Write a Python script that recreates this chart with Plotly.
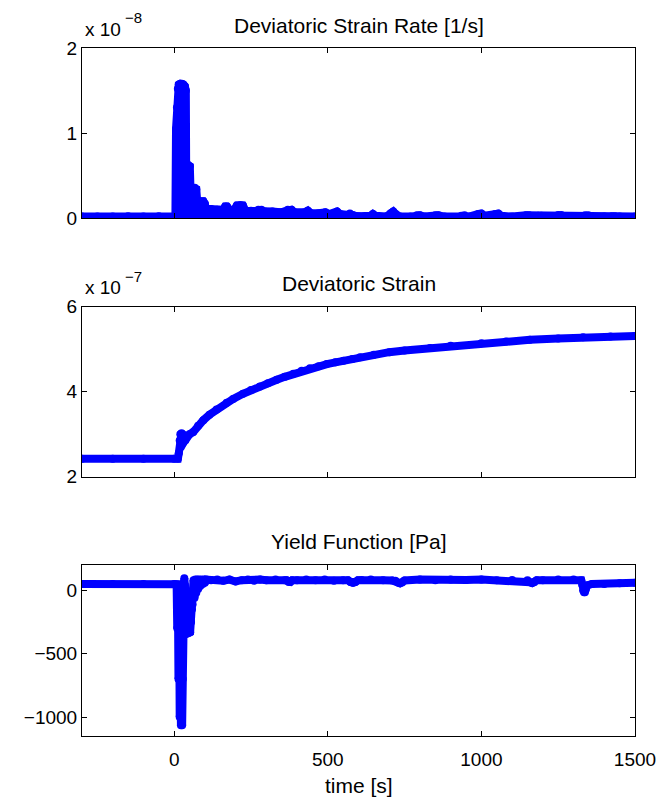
import plotly.graph_objects as go

# ---------------- data ----------------
# Panel 1: deviatoric strain rate, in units of 1e-8 1/s (upper envelope of the signal)
t_rate = [-300, -250, -200, -150, -100, -50, 0, 4,
          6, 9, 12, 15, 20, 25, 30, 35, 38,
          39, 45, 51, 53, 60, 67, 72, 75, 85, 95, 100, 103, 115,
          120, 128, 140, 150, 160, 166, 172, 180, 195, 204, 215, 224, 232, 250, 262, 274, 284, 295,
          320, 345, 360, 370, 382, 392, 410, 425, 435, 445, 470, 492, 505, 520, 530, 540, 560, 572,
          582, 600, 640, 647, 655, 690, 705, 713, 721, 735, 770, 790, 800, 815, 850, 860, 880, 935,
          945, 960, 990, 1000, 1010, 1045, 1055, 1065, 1100, 1145, 1155, 1170, 1185, 1195, 1210,
          1250, 1260, 1275, 1300, 1338, 1348, 1360, 1400, 1425, 1435, 1450, 1500]
rate_e8 = [0.02, 0.02, 0.02, 0.025, 0.02, 0.025, 0.02, 0.02,
           1.05, 1.30, 1.52, 1.57, 1.58, 1.58, 1.57, 1.55, 1.50,
           0.63, 0.63, 0.61, 0.36, 0.36, 0.36, 0.34, 0.20, 0.20, 0.20, 0.17, 0.11, 0.11,
           0.11, 0.09, 0.10, 0.09, 0.10, 0.14, 0.14, 0.10, 0.10, 0.15, 0.155, 0.15, 0.09, 0.09, 0.08, 0.10, 0.10, 0.08,
           0.08, 0.07, 0.08, 0.10, 0.10, 0.07, 0.06, 0.07, 0.09, 0.06, 0.06, 0.07, 0.05, 0.06, 0.08, 0.05, 0.04, 0.055,
           0.04, 0.025, 0.03, 0.05, 0.03, 0.02, 0.06, 0.08, 0.05, 0.02, 0.02, 0.035, 0.035, 0.02, 0.035, 0.035, 0.02, 0.03,
           0.035, 0.02, 0.05, 0.055, 0.03, 0.05, 0.055, 0.03, 0.02, 0.035, 0.035, 0.02, 0.03, 0.03, 0.02,
           0.04, 0.04, 0.02, 0.02, 0.035, 0.035, 0.02, 0.02, 0.025, 0.025, 0.02, 0.02]

# Panel 2: deviatoric strain, in units of 1e-7
t_strain = [-300, -200, -100, 0, 12, 15, 18, 20, 22, 24, 26, 28, 30, 33, 36, 41, 50, 62, 78, 95,
            115, 138, 171, 192, 224, 250, 279, 305, 334, 360, 388, 415, 442, 470, 497, 525, 551,
            580, 605, 650, 700, 750, 833, 900, 1000, 1080, 1158, 1250, 1331, 1420, 1500]
strain_e7 = [2.42, 2.42, 2.42, 2.42, 2.42, 2.55, 2.85, 3.00, 2.70, 3.02, 2.75, 3.00, 2.80, 2.90, 2.85, 2.95, 3.00, 3.05, 3.20, 3.33,
             3.46, 3.58, 3.74, 3.83, 3.95, 4.04, 4.12, 4.20, 4.28, 4.35, 4.42, 4.49, 4.55, 4.60, 4.65, 4.69, 4.73,
             4.77, 4.81, 4.87, 4.93, 4.97, 5.03, 5.08, 5.14, 5.18, 5.22, 5.25, 5.28, 5.30, 5.31]

# Panel 3: yield function [Pa]
t_yield = [-300, -200, -100, 0, 8, 10, 12, 14, 16, 18, 20, 22, 24, 26, 28, 29, 31, 33, 35, 38, 42, 45,
           48, 52, 55, 58, 60, 63, 66, 69, 72, 75, 78, 81, 85, 89, 93, 97, 100, 105, 120, 140, 160, 180, 200,
           220, 240, 260, 280, 300, 330, 360, 366, 372, 378, 384, 400, 430, 460, 490, 520, 550, 566, 574,
           582, 590, 598, 610, 640, 680, 710, 720, 728, 735, 742, 750, 800, 850, 900, 950, 1000, 1050, 1100,
           1150, 1158, 1165, 1172, 1180, 1200, 1250, 1300, 1325, 1329, 1331, 1334, 1337, 1340, 1345, 1360,
           1400, 1450, 1500]
yield_pa = [50, 50, 50, 50, 48, -300, 20, -700, -100, -1000, -600, -1065, -800, -1065, -700, -300, 60, 95, 40, -150, -330, -200,
            -335, -330, -250, -150, -110, 80, -60, 85, -20, 85, 10, 85, 35, 85, 50, 85, 60, 85, 80, 85, 75, 85, 70,
            80, 85, 75, 85, 80, 85, 80, 80, 68, 66, 80, 80, 85, 80, 85, 75, 80, 80, 66,
            58, 66, 80, 82, 85, 80, 78, 76, 62, 55, 62, 78, 85, 80, 85, 82, 85, 80, 82,
            80, 64, 58, 64, 80, 80, 85, 85, 80, 40, 0, -15, -15, 10, 40, 50,
            50, 55, 60]

x_ticks = [0, 500, 1000, 1500]
rate_ticks = [0, 1, 2]
strain_ticks = [2, 4, 6]
yield_ticks = [-1000, -500, 0]

titles = ["Deviatoric Strain Rate [1/s]", "Deviatoric Strain", "Yield Function [Pa]"]
exponents = ["\u22128", "\u22127"]
xlabel = "time [s]"

# ---------------- layout geometry (pixels) ----------------
W, H = 659, 799
L, R, T, B = 82, 24, 48, 63
PH = H - T - B
PW = W - L - R


def py(y):
    return (H - B - y) / PH


def px(x):
    return (x - L) / PW


FONT = "Liberation Sans, Arial, Helvetica, sans-serif"
FS = 19
FT = 21
BLUE = "#0000ff"

fig = go.Figure()
# strain rate: oscillating signal drawn as filled envelope
fig.add_trace(go.Scatter(
    x=t_rate, y=rate_e8, xaxis="x", yaxis="y", mode="lines+markers",
    line=dict(color=BLUE, width=8), marker=dict(color=BLUE, size=8, line=dict(width=0)),
    fill="tozeroy", fillcolor=BLUE, showlegend=False, hoverinfo="skip"))
fig.add_trace(go.Scatter(
    x=t_strain, y=strain_e7, xaxis="x2", yaxis="y2", mode="lines+markers",
    line=dict(color=BLUE, width=8), marker=dict(color=BLUE, size=8, line=dict(width=0)),
    showlegend=False, hoverinfo="skip"))
fig.add_trace(go.Scatter(
    x=t_yield, y=yield_pa, xaxis="x3", yaxis="y3", mode="lines+markers",
    line=dict(color=BLUE, width=8), marker=dict(color=BLUE, size=8, line=dict(width=0)),
    showlegend=False, hoverinfo="skip"))

axis_common = dict(showgrid=False, zeroline=False, showline=True, linecolor="black", linewidth=1,
                   ticks="inside", ticklen=5, tickcolor="black", tickwidth=1, mirror="ticks",
                   automargin=False,
                   tickfont=dict(family=FONT, size=FS, color="black"))

doms = [(py(218.3), 1.0), (py(476.7), py(306.7)), (0.0, py(565))]

fig.update_layout(
    width=W, height=H, margin=dict(l=L, r=R, t=T, b=B, autoexpand=False),
    paper_bgcolor="white", plot_bgcolor="white",
    font=dict(family=FONT, size=FS, color="black"),
    xaxis=dict(domain=[0, 1], range=[-300, 1500], tickvals=x_ticks, showticklabels=False,
               anchor="y", **axis_common),
    xaxis2=dict(domain=[0, 1], range=[-300, 1500], tickvals=x_ticks, showticklabels=False,
                anchor="y2", matches="x", **axis_common),
    xaxis3=dict(domain=[0, 1], range=[-300, 1500], tickvals=x_ticks, anchor="y3",
                matches="x", ticklabelstandoff=6, **axis_common),
    yaxis=dict(domain=list(doms[0]), range=[0, 2], tickvals=rate_ticks, anchor="x", **axis_common),
    yaxis2=dict(domain=list(doms[1]), range=[2, 6], tickvals=strain_ticks, anchor="x2", **axis_common),
    yaxis3=dict(domain=list(doms[2]), range=[-1150, 200], tickvals=yield_ticks, anchor="x3", **axis_common),
)

ann = []
for text, yc in zip(titles, [25, 283, 541]):
    ann.append(dict(text=text, x=0.5, y=py(yc), xref="paper", yref="paper",
                    xanchor="center", yanchor="middle", showarrow=False,
                    font=dict(family=FONT, size=FT, color="black")))
for exp, (yb, ys) in zip(exponents, [(29, 18), (287, 276)]):
    ann.append(dict(text="x 10", x=px(83), y=py(yb), xref="paper", yref="paper",
                    xanchor="left", yanchor="middle", showarrow=False,
                    font=dict(family=FONT, size=FS, color="black")))
    ann.append(dict(text=exp, x=px(123), y=py(ys), xref="paper", yref="paper",
                    xanchor="left", yanchor="middle", showarrow=False,
                    font=dict(family=FONT, size=15, color="black")))
ann.append(dict(text=xlabel, x=0.5, y=py(786), xref="paper", yref="paper",
                xanchor="center", yanchor="middle", showarrow=False,
                font=dict(family=FONT, size=FT, color="black")))
fig.update_layout(annotations=ann)

fig.write_html("out.html")
